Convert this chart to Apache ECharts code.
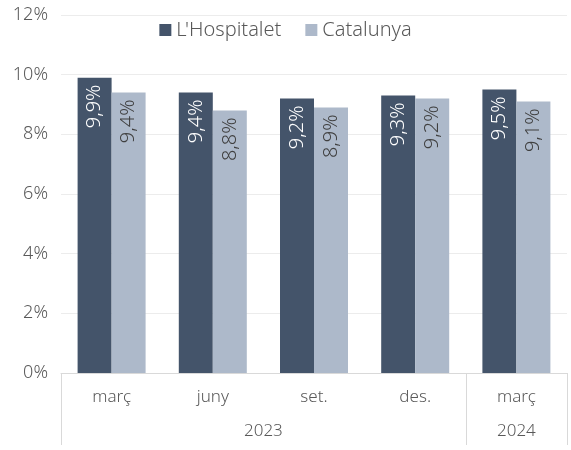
<!DOCTYPE html>
<html>
<head>
<meta charset="utf-8">
<script src="https://cdn.jsdelivr.net/npm/echarts@6/dist/echarts.min.js"></script>
<style>
  html, body { margin: 0; padding: 0; background: #fff; }
  #main { width: 571px; height: 450px; }
</style>
</head>
<body>
<div id="main"></div>
<script>
// dades
var months = ['març', 'juny', 'set.', 'des.', 'març'];
var years = ['2023', '2024'];
var yearMid = [2, 4.5];      // centre of each year group, in category units
var yearEdges = [0, 4, 5];   // separators between year groups
var hospitalet = [9.9, 9.4, 9.2, 9.3, 9.5];
var catalunya = [9.4, 8.8, 8.9, 9.2, 9.1];

var font = '"Noto Sans", "Open Sans", sans-serif';
var dark = '#44546a';
var light = '#adb9ca';

var myChart = echarts.init(document.getElementById('main'));

var fmt = function (p) {
  return p.value.toFixed(1).replace('.', ',') + '%';
};

var labelBase = {
  show: true,
  position: 'insideTop',
  distance: 7,
  rotate: 90,
  align: 'right',
  verticalAlign: 'middle',
  fontSize: 20,
  fontWeight: 300,
  fontFamily: font,
  formatter: fmt
};

var option = {
  animation: false,
  textStyle: { fontFamily: font },
  legend: {
    top: 15,
    left: 'center',
    itemWidth: 12,
    itemHeight: 12,
    itemGap: 24,
    icon: 'rect',
    textStyle: { fontSize: 20, color: '#595959', fontFamily: font, fontWeight: 300 },
    data: ["L'Hospitalet", 'Catalunya']
  },
  grid: { left: 61, right: 4, top: 15, bottom: 77 },
  xAxis: [{
    type: 'category',
    data: months,
    position: 'bottom',
    axisLine: { lineStyle: { color: '#d9d9d9', width: 1 } },
    axisTick: { show: false },
    axisLabel: { margin: 16, fontSize: 17, color: '#595959', fontFamily: font, fontWeight: 300 }
  }, {
    type: 'value',
    min: 0,
    max: 5,
    position: 'bottom',
    axisLine: { show: false },
    splitLine: { show: false },
    axisTick: {
      show: true,
      length: 72,
      customValues: yearEdges,
      lineStyle: { color: '#d9d9d9' }
    },
    axisLabel: {
      margin: 50,
      fontSize: 17,
      color: '#595959',
      fontFamily: font,
      fontWeight: 300,
      customValues: yearMid,
      formatter: function (v) {
        var i = yearMid.indexOf(v);
        return i >= 0 ? years[i] : '';
      }
    }
  }],
  yAxis: {
    type: 'value',
    min: 0,
    max: 12,
    interval: 2,
    axisLine: { show: false },
    axisTick: { show: false },
    splitLine: { lineStyle: { color: '#ececec', width: 1 } },
    axisLabel: {
      margin: 13,
      fontSize: 18,
      color: '#595959',
      fontFamily: font,
      fontWeight: 300,
      formatter: '{value}%'
    }
  },
  series: [{
    name: "L'Hospitalet",
    type: 'bar',
    data: hospitalet,
    barWidth: 34,
    barGap: '0%',
    itemStyle: { color: dark },
    label: Object.assign({}, labelBase, { color: '#ffffff' })
  }, {
    name: 'Catalunya',
    type: 'bar',
    data: catalunya,
    barWidth: 34,
    barGap: '0%',
    itemStyle: { color: light },
    label: Object.assign({}, labelBase, { color: '#404040' })
  }]
};

myChart.setOption(option);
</script>
</body>
</html>
